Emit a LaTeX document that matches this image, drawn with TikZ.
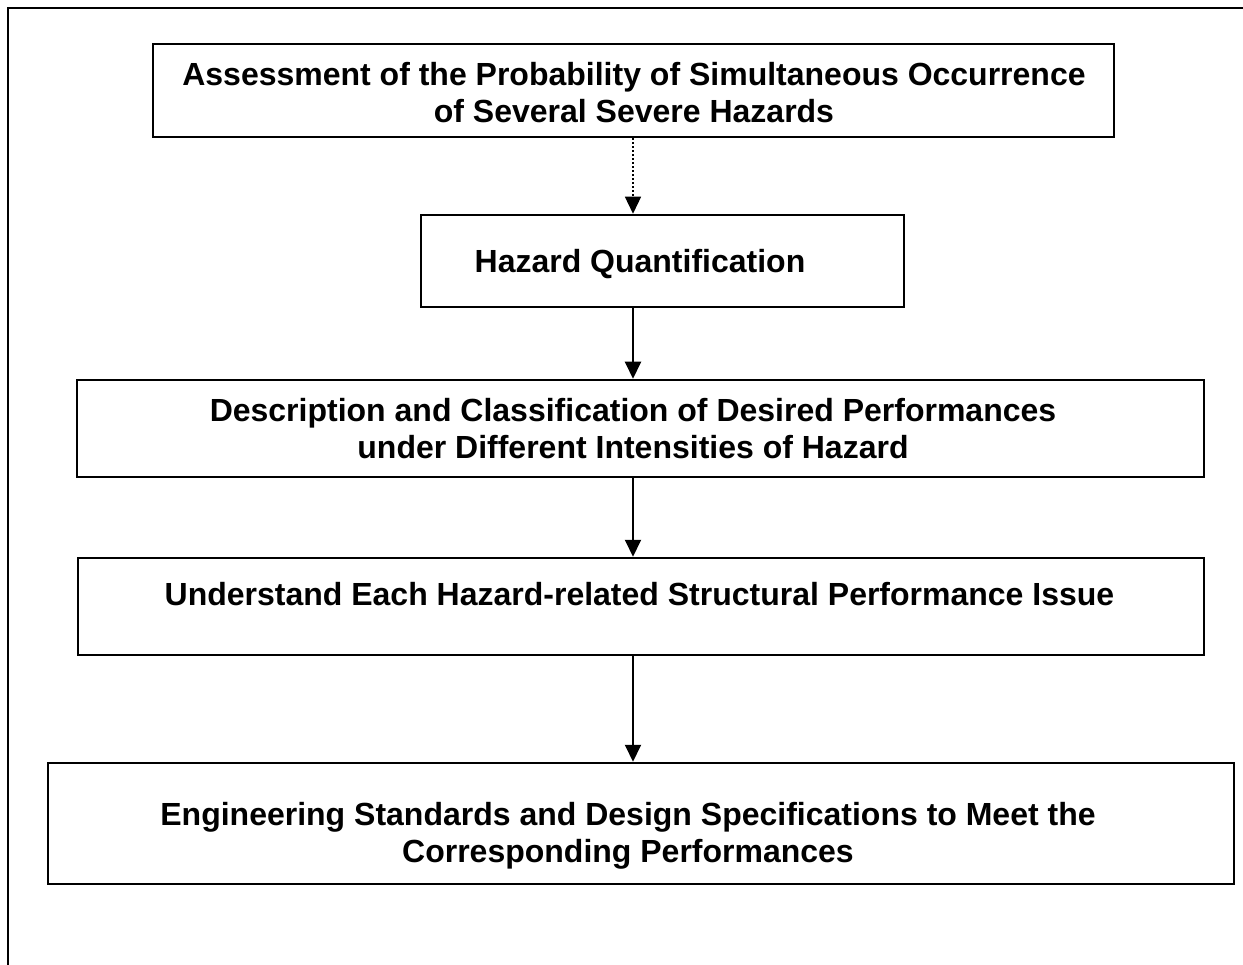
\documentclass[tikz,border=0pt]{standalone}
\usepackage{fontspec}
\setmainfont{Liberation Sans}
\usepackage{tikz}
\usetikzlibrary{arrows.meta,positioning,calc}
\tikzstyle{box}=[rectangle, draw=black, line width=2.5pt, inner sep=0pt]
\tikzstyle{txt}=[align=center, inner sep=0pt, font=\fontsize{32}{37}\selectfont\bfseries]
\tikzstyle{link}=[line width=2pt, -{Triangle[length=17pt,width=16pt]}]

\begin{document}
\begin{tikzpicture}[x=1pt,y=-1pt]
		\useasboundingbox (0,0) rectangle (1243,965);
		\draw[line width=2.5pt] (8,965)--(8,8)--(1243,8);
		\node[box, minimum width=961, minimum height=93] (A)at(633.5,90.5){};
		\node[box, minimum width=483, minimum height=92] (B)at(662.5,261){};
		\node[box, minimum width=1127, minimum height=97] (C)at(640.5,428.5){};
		\node[box, minimum width=1126, minimum height=97] (D)at(641,606.5){};
		\node[box, minimum width=1186, minimum height=121] (E)at(641,823.5){};
		\node[txt] (TA)at(634,93){Assessment of the Probability of Simultaneous Occurrence\\of Several Severe Hazards};
		\node[txt] (TB)at(640,264){Hazard Quantification};
		\node[txt] (TC)at(633,429){Description and Classification of Desired Performances\\under Different Intensities of Hazard};
		\node[txt] (TD)at(639.5,594){Understand Each Hazard-related Structural Performance Issue};
		\node[txt] (TE)at(628,836){Engineering Standards and Design Specifications to Meet the\\Corresponding Performances};
		\coordinate (X)at(633,0);
		
	\draw[link, dotted, line width=1.3pt](A.south-|X)--(B.north-|X);
	\draw[link](B.south-|X)--(C.north-|X);
	\draw[link](C.south-|X)--(D.north-|X);
	\draw[link](D.south-|X)--(E.north-|X);
	\end{tikzpicture}
\end{document}
